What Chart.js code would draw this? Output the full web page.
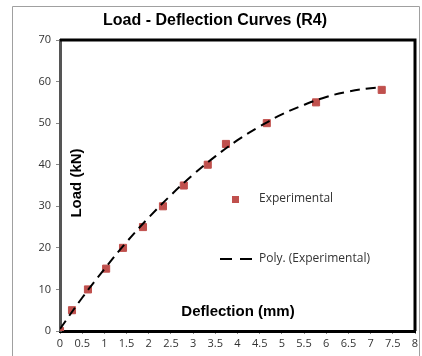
<!DOCTYPE html>
<html>
<head>
<meta charset="utf-8">
<script src="https://cdn.jsdelivr.net/npm/chart.js@4"></script>
<style>
  html, body { margin: 0; padding: 0; background: #fff; }
  #wrap { width: 422px; height: 356px; position: relative; }
</style>
</head>
<body>
<div id="wrap"><canvas id="chart" width="422" height="356"></canvas></div>
<script>
// measured points (deflection mm, load kN)
const deflection = [0, 0.27, 0.63, 1.04, 1.42, 1.87, 2.32, 2.79, 3.33, 3.74, 4.66, 5.77, 7.25];
const load = [0, 5, 10, 15, 20, 25, 30, 35, 40, 45, 50, 55, 58];

// polynomial trend line
const trendX = [0, 0.5, 1, 1.5, 2, 2.5, 3, 3.5, 4, 4.5, 5, 5.5, 6, 6.5, 7, 7.25];
const trendY = [0.5, 8.0, 14.9, 21.4, 27.3, 32.7, 37.6, 42.0, 45.9, 49.2, 52.1, 54.4, 56.3, 57.6, 58.4, 58.6];

const xTicks = [0, 0.5, 1, 1.5, 2, 2.5, 3, 3.5, 4, 4.5, 5, 5.5, 6, 6.5, 7, 7.5, 8];
const yTicks = [0, 10, 20, 30, 40, 50, 60, 70];

const FONT = "'Liberation Sans', Arial, sans-serif";
const LABEL_FONT = "'Open Sans', 'Noto Sans', sans-serif";
const markerColor = "#c0504d";

const expPoints = deflection.map((x, i) => ({ x: x, y: load[i] }));
const trendPoints = trendX.map((x, i) => ({ x: x, y: trendY[i] }));

// frame, title, inner axis titles and legend
const decorPlugin = {
  id: "decor",
  beforeDraw: function (chart) {
    const ctx = chart.ctx;
    ctx.save();
    ctx.fillStyle = "#fff";
    ctx.fillRect(0, 0, chart.width, chart.height);
    ctx.strokeStyle = "#a0a0a0";
    ctx.lineWidth = 1;
    ctx.beginPath();
    ctx.moveTo(12.5, 356);
    ctx.lineTo(12.5, 6.5);
    ctx.lineTo(419.5, 6.5);
    ctx.lineTo(419.5, 356);
    ctx.stroke();
    ctx.restore();
  },
  afterDraw: function (chart) {
    const ctx = chart.ctx;
    const a = chart.chartArea;
    ctx.save();
    // top and right border of plot area
    ctx.strokeStyle = "#000";
    ctx.lineWidth = 3;
    ctx.beginPath();
    ctx.moveTo(a.left, a.top);
    ctx.lineTo(a.right, a.top);
    ctx.lineTo(a.right, a.bottom);
    ctx.stroke();

    ctx.fillStyle = "#000";
    ctx.font = "bold 16px " + FONT;
    ctx.textAlign = "center";
    ctx.textBaseline = "middle";
    ctx.fillText("Load - Deflection Curves (R4)", 215, 21);

    ctx.font = "bold 15px " + FONT;
    ctx.fillText("Deflection (mm)", 238, 312);
    ctx.save();
    ctx.translate(77, 183);
    ctx.rotate(-Math.PI / 2);
    ctx.fillText("Load (kN)", 0, 0);
    ctx.restore();

    // legend
    ctx.fillStyle = markerColor;
    ctx.fillRect(232, 196, 7, 7);
    ctx.fillStyle = "#333";
    ctx.font = "12px " + LABEL_FONT;
    ctx.textAlign = "left";
    ctx.fillText("Experimental", 259, 199);
    ctx.strokeStyle = "#000";
    ctx.lineWidth = 2;
    ctx.beginPath();
    ctx.moveTo(220, 259);
    ctx.lineTo(232, 259);
    ctx.moveTo(240, 259);
    ctx.lineTo(252, 259);
    ctx.stroke();
    ctx.fillText("Poly. (Experimental)", 259, 259);
    ctx.restore();
  },
};

new Chart(document.getElementById("chart"), {
  type: "scatter",
  data: {
    datasets: [
      {
        label: "Poly. (Experimental)",
        data: trendPoints,
        showLine: true,
        borderColor: "#000",
        borderWidth: 2,
        borderDash: [10, 6],
        pointRadius: 0,
        tension: 0.4,
        fill: false,
      },
      {
        label: "Experimental",
        data: expPoints,
        pointStyle: "rect",
        pointRadius: 5,
        pointBackgroundColor: markerColor,
        pointBorderColor: markerColor,
        showLine: false,
      },
    ],
  },
  options: {
    responsive: false,
    animation: false,
    layout: { padding: { left: 12, top: 40, right: 7, bottom: 0 } },
    plugins: {
      legend: { display: false },
      tooltip: { enabled: false },
    },
    scales: {
      x: {
        type: "linear",
        min: 0,
        max: 8,
        afterBuildTicks: function (s) {
          s.ticks = xTicks.map((v) => ({ value: v }));
        },
        afterFit: function (s) {
          s.height = 25;
        },
        border: { color: "#000", width: 3 },
        grid: { drawOnChartArea: false, drawTicks: true, tickLength: 3, color: "#888" },
        ticks: {
          color: "#333",
          font: { family: LABEL_FONT, size: 11 },
          padding: 3,
          maxRotation: 0,
          autoSkip: false,
          callback: function (v) {
            return String(v);
          },
        },
      },
      y: {
        type: "linear",
        min: 0,
        max: 70,
        afterBuildTicks: function (s) {
          s.ticks = yTicks.map((v) => ({ value: v }));
        },
        afterFit: function (s) {
          s.width = 48;
        },
        border: { color: "#555", width: 3 },
        grid: { drawOnChartArea: false, drawTicks: true, tickLength: 4, color: "#888" },
        ticks: {
          color: "#333",
          font: { family: LABEL_FONT, size: 11 },
          padding: 5,
        },
      },
    },
  },
  plugins: [decorPlugin],
});
</script>
</body>
</html>
